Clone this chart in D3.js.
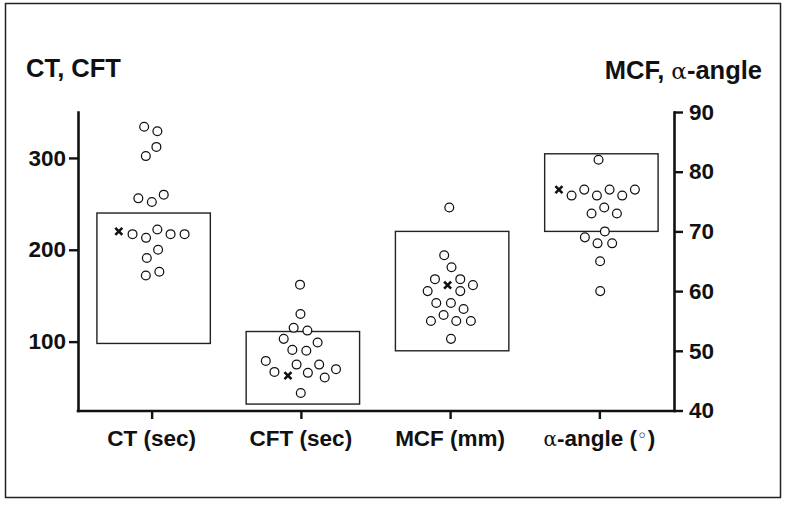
<!DOCTYPE html>
<html><head><meta charset="utf-8">
<script src="https://cdn.jsdelivr.net/npm/d3@7"></script>
<style>
body{margin:0;background:#fff}
svg{display:block}
text{font-family:"Liberation Sans",Arial,Helvetica,sans-serif;font-weight:bold;fill:#111}
</style>
</head><body><svg id="c" width="787" height="505"></svg>
<script>
// ---------- data ----------
const categories = ["CT (sec)", "CFT (sec)", "MCF (mm)", "α-angle (°)"];
const axisSide   = ["left", "left", "right", "right"];
const ctValues    = [334, 329, 302, 312, 256, 252, 260, 220, 217, 213, 217, 217, 222, 200, 191, 172, 176];
const cftValues   = [162, 130, 115, 112, 103, 99, 91, 90, 79, 75, 67, 63, 61, 66, 70, 75, 44];
const mcfValues   = [74, 66, 64, 62, 60, 61, 61, 60, 62, 56, 58, 58, 57, 55, 55, 55, 52];
const alphaValues = [82, 77, 77, 76, 76, 77, 76, 77, 73, 73, 74, 69, 68, 68, 70, 65, 60];
const markedIndex = [7, 11, 5, 1];          // the case drawn with an "x"
const rangeLow    = [98, 32, 50, 70];
const rangeHigh   = [240, 111, 70, 83];
const leftTicks   = [100, 200, 300];
const rightTicks  = [40, 50, 60, 70, 80, 90];
const leftDomain  = [25, 350];
const rightDomain = [40, 90];
const leftTitle   = "CT, CFT";
const rightTitle  = ["MCF, ", "α", "-angle"];

const seriesValues = [ctValues, cftValues, mcfValues, alphaValues];

// ---------- layout ----------
const svg = d3.select("#c");
const yTop = 112, yBottom = 410.5, xLeft = 78, xRight = 674;

svg.append("rect").attr("x", 5.5).attr("y", 3.5).attr("width", 775).attr("height", 494)
  .attr("fill", "none").attr("stroke", "#222").attr("stroke-width", 1.5);

const x = d3.scalePoint().domain(categories).range([77, 674]).padding(0.5);
const yL = d3.scaleLinear().domain(leftDomain).range([yBottom, yTop]);
const yR = d3.scaleLinear().domain(rightDomain).range([yBottom, yTop]);
const yFor = side => side === "left" ? yL : yR;

// reference range boxes
const boxW = x.step() * 0.76;
categories.forEach((c, k) => {
  const ys = yFor(axisSide[k]);
  svg.append("rect")
    .attr("x", x(c) + 2 - boxW / 2)
    .attr("y", ys(rangeHigh[k]))
    .attr("width", boxW)
    .attr("height", ys(rangeLow[k]) - ys(rangeHigh[k]))
    .attr("fill", "none").attr("stroke", "#222").attr("stroke-width", 1.4);
});

// swarm of points
const R = 4.4;
categories.forEach((c, k) => {
  const ys = yFor(axisSide[k]);
  const vals = seriesValues[k];
  const cx = x(c), n = vals.length;
  const nodes = vals.map((v, i) => ({ v, i, x: cx + (i - (n - 1) / 2) * 0.8, y: ys(v), fy: ys(v) }));
  const sim = d3.forceSimulation(nodes)
    .force("x", d3.forceX(cx).strength(0.03))
    .force("collide", d3.forceCollide(7.0).strength(1).iterations(6))
    .stop();
  for (let t = 0; t < 500; t++) sim.tick();

  const g = svg.append("g");
  nodes.forEach(nd => {
    if (nd.i === markedIndex[k]) {
      const s = 3.5;
      g.append("path")
        .attr("d", `M${nd.x - s},${nd.fy - s}L${nd.x + s},${nd.fy + s}M${nd.x - s},${nd.fy + s}L${nd.x + s},${nd.fy - s}`)
        .attr("stroke", "#111").attr("stroke-width", 2.6).attr("fill", "none");
    } else {
      g.append("circle").attr("cx", nd.x).attr("cy", nd.fy).attr("r", R)
        .attr("fill", "#fff").attr("stroke", "#111").attr("stroke-width", 1.25);
    }
  });
});

// axes
const styleAxis = (g, fs) => {
  g.selectAll("path.domain").attr("stroke", "#111").attr("stroke-width", 2.6).attr("stroke-linecap", "square");
  g.selectAll(".tick line").attr("stroke", "#111").attr("stroke-width", 2.4);
  g.selectAll(".tick text").attr("font-size", fs).attr("font-family", null).attr("fill", "#111");
};
const gl = svg.append("g").attr("transform", `translate(${xLeft},0)`)
  .call(d3.axisLeft(yL).tickValues(leftTicks).tickSize(9).tickSizeOuter(0).tickPadding(3));
styleAxis(gl, 22.5);
const gr = svg.append("g").attr("transform", `translate(${xRight},0)`)
  .call(d3.axisRight(yR).tickValues(rightTicks).tickSize(9).tickSizeOuter(0).tickPadding(6));
styleAxis(gr, 22.5);
const gb = svg.append("g").attr("transform", `translate(0,${yBottom + 0.5})`)
  .call(d3.axisBottom(x).tickSize(8).tickSizeOuter(0).tickFormat(""));
styleAxis(gb, 22);
gb.select("path.domain").attr("d", `M${xLeft},0H${xRight}`);

// category labels (alpha & degree drawn in a lighter symbol style)
categories.forEach(c => {
  const t = svg.append("text").attr("x", x(c)).attr("y", 446).attr("text-anchor", "middle").attr("font-size", 22.5);
  if (c.startsWith("α")) {
    t.append("tspan").attr("font-weight", "normal").attr("font-family", "DejaVu Serif").attr("font-size", 20).text("α");
    t.append("tspan").text("-angle (");
    t.append("tspan").attr("font-weight", "normal").attr("font-family", "DejaVu Sans").attr("font-size", 18).attr("dy", -4).text("◦");
    t.append("tspan").attr("dy", 4).text(")");
  } else {
    t.text(c);
  }
});

// axis titles
svg.append("text").attr("x", 26).attr("y", 77).attr("font-size", 25.5).text(leftTitle);
const rt = svg.append("text").attr("x", 762).attr("y", 79).attr("text-anchor", "end").attr("font-size", 25.5);
rt.append("tspan").text(rightTitle[0]);
rt.append("tspan").attr("font-weight", "normal").attr("font-family", "DejaVu Serif").attr("font-size", 23).text(rightTitle[1]);
rt.append("tspan").text(rightTitle[2]);
</script>
</body></html>
